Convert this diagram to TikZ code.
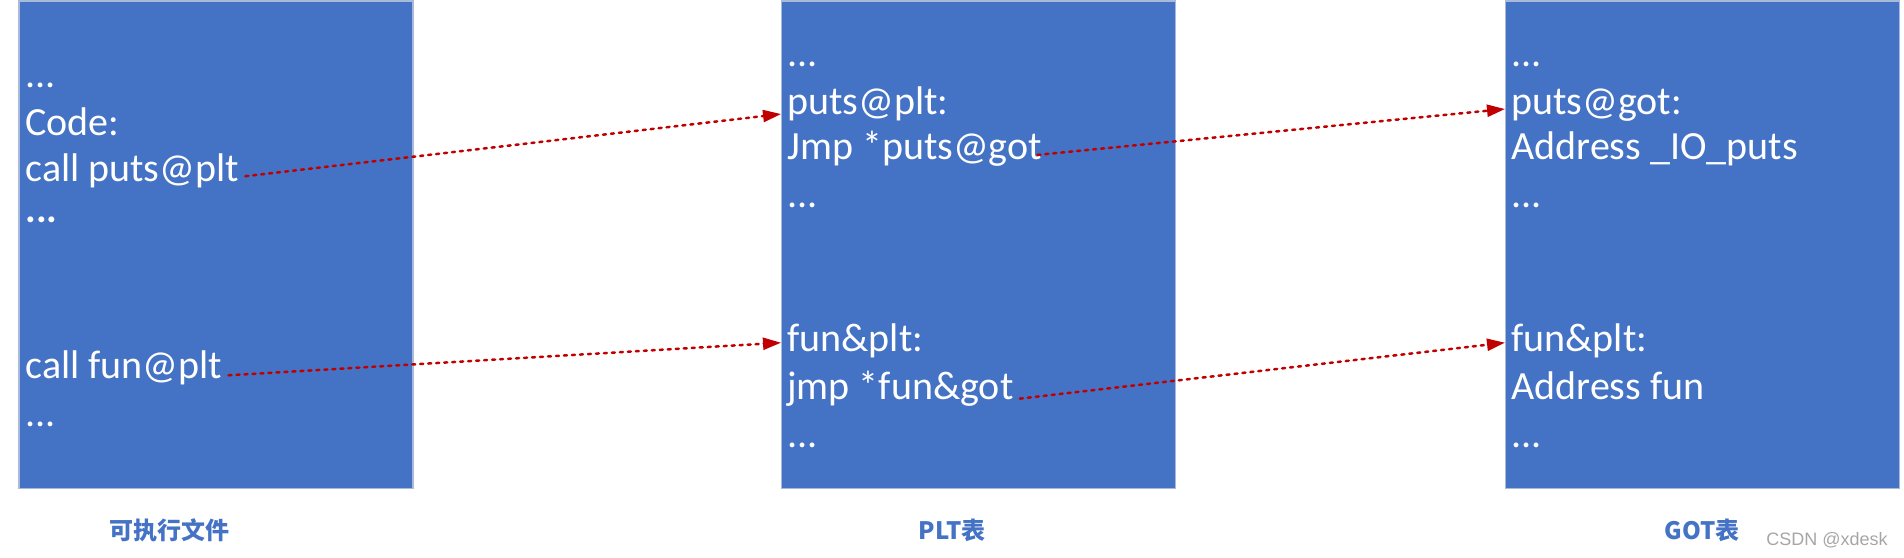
\documentclass[tikz,border=0pt]{standalone}
\usepackage{fontspec}
\setmainfont{Carlito}
\newfontfamily\cjkfont{Noto Sans CJK SC}
\newfontfamily\markfont{Liberation Sans}
\usetikzlibrary{arrows.meta}
\definecolor{TBlue}{HTML}{4472C4}
\definecolor{TEdge}{HTML}{A9B9D9}
\definecolor{TRed}{HTML}{C00000}
\definecolor{TMark}{HTML}{A6A6A6}
\tikzset{
  jump/.style={-{Triangle[length=9pt,width=6pt]},TRed,line width=1.25pt,
               dash pattern=on 1.5pt off 2.5pt,line cap=round},
  tablebox/.style={draw=TEdge,line width=0.6pt,fill=TBlue,inner sep=0pt,
                   minimum width=197pt,minimum height=243.75pt},
  entry/.style={text=white,anchor=base west,inner xsep=3pt,inner ysep=0pt,
                text height=0.75em,text depth=0.25em,
                font=\fontsize{20}{24}\selectfont},
  caption/.style={text=TBlue,font=\cjkfont\bfseries\fontsize{12}{14}\selectfont},
  watermark/.style={text=TMark,font=\markfont\fontsize{9}{11}\selectfont},
}

\begin{document}
\begin{tikzpicture}[x=0.5pt,y=-0.5pt]
  \useasboundingbox (0,0) rectangle (1904,557);

  % the three tables
  \node[tablebox] (exe) at (216,244.75) {};
  \node[tablebox] (plt) at (978.5,244.75) {};
  \node[tablebox] (got) at (1702.5,244.75) {};

  % executable
  \node[entry] (exedots) at (19,87.4) {...};
  \node[entry] (code) at (19,135.3) {Code:};
  \node[entry] (callputs) at (19,181.2) {call puts@plt};
  \node[entry,font=\fontsize{20}{24}\selectfont\bfseries] (exemore) at (19,222.7) {...};
  \node[entry] (callfun) at (19,378.3) {call fun@plt};
  \node[entry] (exeend) at (19,426.3) {...};

  % plt
  \node[entry] (pltdots) at (781,66.1) {...};
  \node[entry] (pltputs) at (781,114) {puts@plt:};
  \node[entry] (jmpputs) at (781,159.9) {Jmp *puts@got};
  \node[entry] (pltmore) at (781,207.8) {...};
  \node[entry] (pltfun) at (781,351.7) {fun\&plt:};
  \node[entry] (jmpfun) at (781,399.6) {jmp *fun\&got};
  \node[entry] (pltend) at (781,447.6) {...};

  % got
  \node[entry] (gotdots) at (1505,66.1) {...};
  \node[entry] (gotputs) at (1505,114) {puts@got:};
  \node[entry] (addrputs) at (1505,159.9) {Address \_IO\_puts};
  \node[entry] (gotmore) at (1505,207.8) {...};
  \node[entry] (gotfun) at (1505,351.7) {fun\&plt:};
  \node[entry] (addrfun) at (1505,399.6) {Address fun};
  \node[entry] (gotend) at (1505,447.6) {...};

  % jumps
  \draw[jump] (callputs.east) -- (pltputs.base west);
  \draw[jump] ([yshift=1.5pt]callfun.base east) -- ([yshift=2pt]pltfun.west);
  \draw[jump] ([xshift=-5.5pt]jmpputs.east) -- (gotputs.west);
  \draw[jump] ([yshift=-2pt]jmpfun.east) -- ([yshift=2pt]gotfun.west);

  % captions
  \node[caption] (exelabel) at (169,530) {可执行文件};
  \node[caption] (pltlabel) at (952,530) {PLT表};
  \node[caption] (gotlabel) at (1702,530) {GOT表};
  \node[watermark] (mark) at (1827,540) {CSDN @xdesk};
\end{tikzpicture}
\end{document}
